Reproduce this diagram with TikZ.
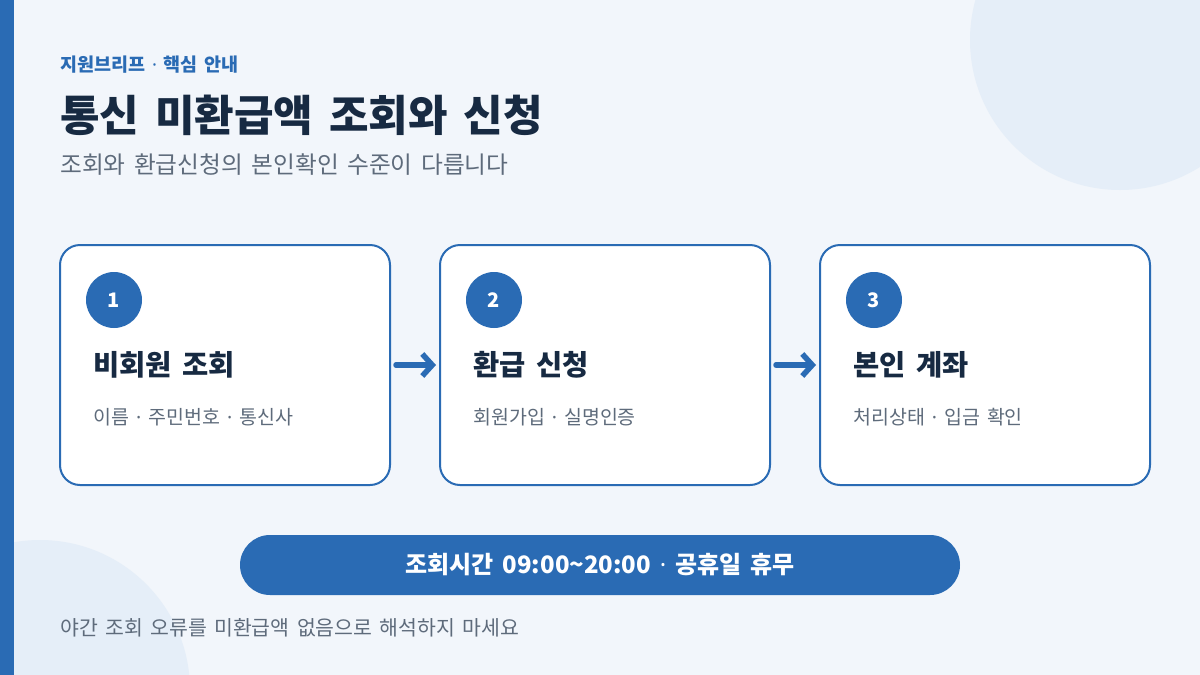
\documentclass[tikz,border=0pt]{standalone}
\usepackage{fontspec}
\setmainfont{Noto Sans CJK KR}[WordSpace=1.6]
\newfontfamily\dotfont{Noto Sans}
\newcommand\sepdot{{\dotfont ·}}
\usetikzlibrary{arrows.meta,positioning}

\definecolor{brandblue}{HTML}{2A6BB4}
\definecolor{pagebg}{HTML}{F2F6FB}
\definecolor{blobfill}{HTML}{E5EEF8}
\definecolor{inkdark}{HTML}{172A42}
\definecolor{inkgrey}{HTML}{5E6B7B}

\tikzset{
  stepcard/.style={draw=brandblue, line width=2pt, fill=white, rounded corners=20pt, minimum width=330pt, minimum height=240pt},
  stepnum/.style={circle, fill=brandblue, minimum size=56pt, inner sep=0pt, text=white, font=\fontsize{20}{22}\selectfont\bfseries},
  steptitle/.style={anchor=west, inner sep=0pt, text=inkdark, font=\fontsize{28.5}{32}\selectfont\bfseries},
  stepnote/.style={anchor=west, inner sep=0pt, text=inkgrey, font=\fontsize{19.5}{23}\selectfont},
  flowarrow/.style={draw=brandblue, line width=5.5pt, line cap=round, -{Straight Barb[length=10pt,width=22pt]}, shorten <=5pt, shorten >=3pt}
}

\begin{document}
\begin{tikzpicture}[x=1pt, y=-1pt]
    % Page
    \useasboundingbox (0,0) rectangle (1200,675);
    \fill[pagebg] (0,0) rectangle (1200,675);
    \begin{scope}
        \clip (0,0) rectangle (1200,675);
        \fill[blobfill] (1120,40) circle (150pt);
        \fill[blobfill] (40,690) circle (150pt);
    \end{scope}
    \fill[brandblue] (0,0) rectangle (14,675);

    % Heading
    \node[anchor=west, inner sep=0pt, text=brandblue, font=\fontsize{18.5}{22}\selectfont\bfseries] (kicker) at (60,65) {지원브리프 \sepdot{} 핵심 안내};
    \node[anchor=west, inner sep=0pt, text=inkdark, font=\fontsize{43}{50}\selectfont\bfseries] (headline) at (60,115) {통신 미환급액 조회와 신청};
    \node[anchor=west, inner sep=0pt, text=inkgrey, font=\fontsize{23.7}{28}\selectfont] (subline) at (60,165) {조회와 환급신청의 본인확인 수준이 다릅니다};

    % Step 1
    \node[stepcard] (card1) at (225,365) {};
    \node[stepnum] (num1) at (114,300) {1};
    \node[steptitle] (title1) at (93,365) {비회원 조회};
    \node[stepnote] (note1) at (93,417) {이름 \sepdot{} 주민번호 \sepdot{} 통신사};

    % Step 2
    \node[stepcard] (card2) at (605,365) {};
    \node[stepnum] (num2) at (494,300) {2};
    \node[steptitle] (title2) at (473,365) {환급 신청};
    \node[stepnote] (note2) at (473,417) {회원가입 \sepdot{} 실명인증};

    % Step 3
    \node[stepcard] (card3) at (985,365) {};
    \node[stepnum] (num3) at (874,300) {3};
    \node[steptitle] (title3) at (853,365) {본인 계좌};
    \node[stepnote] (note3) at (853,417) {처리상태 \sepdot{} 입금 확인};

    % Arrows
    \draw[flowarrow] (card1.east) -- (card2.west);
    \draw[flowarrow] (card2.east) -- (card3.west);

    % Hours banner
    \node[fill=brandblue, rounded corners=30pt, minimum width=720pt, minimum height=60pt, text=white, font=\fontsize{24}{28}\selectfont\bfseries] (hours) at (600,565) {조회시간 09:00\textasciitilde20:00 {\bfseries\sepdot} 공휴일 휴무};

    % Footnote
    \node[anchor=west, inner sep=0pt, text=inkgrey, font=\fontsize{20.5}{24}\selectfont] (footnote) at (60,628) {야간 조회 오류를 미환급액 없음으로 해석하지 마세요};
\end{tikzpicture}
\end{document}
